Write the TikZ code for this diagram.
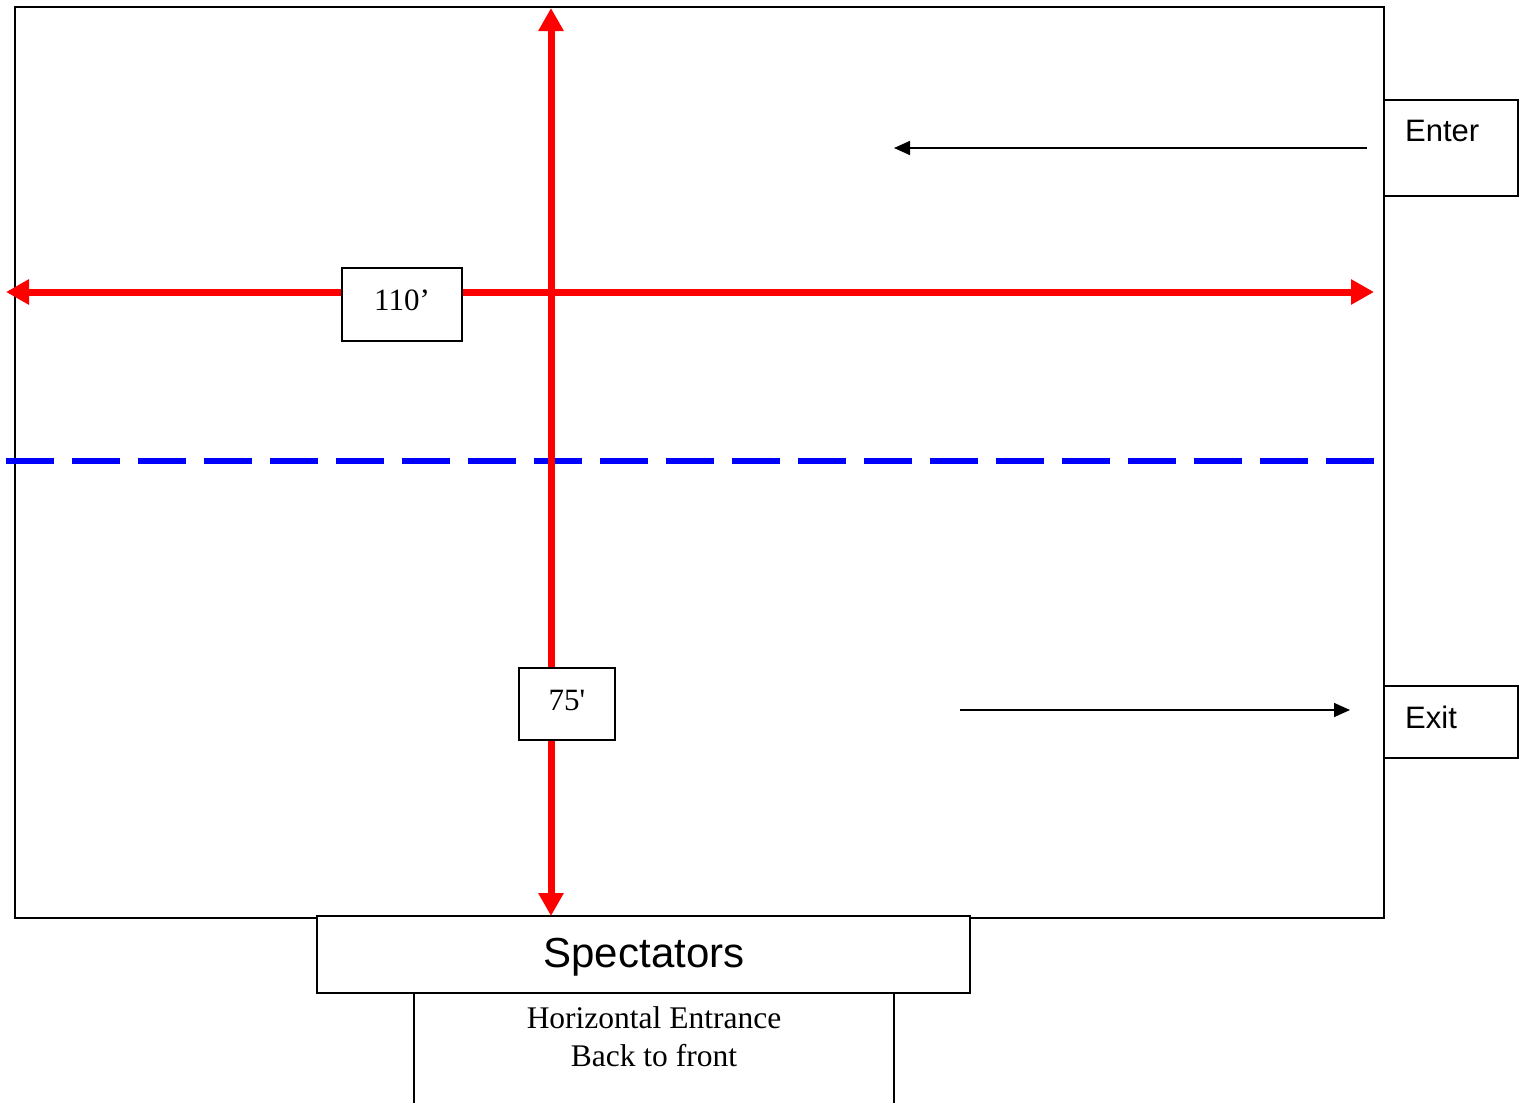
\documentclass[tikz,border=0pt]{standalone}
\usepackage{fontspec}
\setmainfont{Liberation Serif}
\newfontfamily\arialf{Liberation Sans}
\newfontfamily\timesplain[Ligatures=TeXOff]{Liberation Serif}
\usetikzlibrary{arrows.meta}
\tikzset{
  frame/.style={draw=black, line width=2pt, inner sep=0pt, outer sep=0pt},
  whitebox/.style={frame, fill=white},
  redarrow/.style={draw=red, line width=7pt, {Triangle[length=23pt,width=24pt]}-{Triangle[length=23pt,width=24pt]}},
  bluedash/.style={draw=blue, line width=6pt, dash pattern=on 48pt off 18pt},
  thinarrow/.style={draw=black, line width=1.6pt, -{Triangle[length=16pt,width=14pt]}},
  sanslabel/.style={font=\arialf\fontsize{31}{37}\selectfont, inner sep=0pt},
  seriflabel/.style={font=\fontsize{31}{37}\selectfont, inner sep=0pt},
}
\begin{document}
\begin{tikzpicture}[x=1pt,y=-1pt]
\useasboundingbox (0,0) rectangle (1519,1103);
% field
\node[frame, minimum width=1369pt, minimum height=911pt, anchor=north west] (field) at (15,7) {};
% coordinates for free ends
\coordinate (bl) at (6,461);
\coordinate (br) at (1374,461);
\coordinate (hl) at (6,292);
\coordinate (hr) at (1374,292);
\coordinate (vt) at (551,8);
\coordinate (vb) at (551,916);
\coordinate (enterfrom) at (1367,148);
\coordinate (enterto) at (894,148);
\coordinate (exitfrom) at (960,710);
\coordinate (exitto) at (1350,710);
% blue dashed line
\draw[bluedash] (bl) -- (br);
% spectators box
\node[whitebox, minimum width=653pt, minimum height=77pt] (spect) at (643.5,954.5) {};
\node[font=\arialf\fontsize{42}{50}\selectfont, inner sep=0pt, anchor=base] (specttext) at (644,967) {Spectators};
% red arrows
\draw[redarrow] (hl) -- (hr);
\draw[redarrow] (vt) -- (vb);
% dimension labels
\node[whitebox, minimum width=120pt, minimum height=73pt] (len) at (402,304.5) {};
\node[seriflabel, anchor=base] (lentext) at (402,310) {110’};
\node[whitebox, minimum width=96pt, minimum height=72pt] (wid) at (567,704) {};
\node[seriflabel, anchor=base] (widtext) at (567,710) {\timesplain 75'};
% enter / exit
\node[whitebox, minimum width=134pt, minimum height=96pt] (enter) at (1451,148) {};
\node[sanslabel, anchor=base west] (entertext) at (1405,141) {Enter};
\node[whitebox, minimum width=134pt, minimum height=72pt] (exit) at (1451,722) {};
\node[sanslabel, anchor=base west] (exittext) at (1405,728) {Exit};
\draw[thinarrow] (enterfrom) -- (enterto);
\draw[thinarrow] (exitfrom) -- (exitto);
% entrance lane
\coordinate (lanel) at (414,1103);
\coordinate (laner) at (894,1103);
\draw[line width=2pt] (spect.south -| lanel) -- (lanel);
\draw[line width=2pt] (spect.south -| laner) -- (laner);
\node[font=\fontsize{31.5}{38}\selectfont, align=center, inner sep=0pt, anchor=base] (lanetext) at (654,1066) {Horizontal Entrance\\Back to front};
\end{tikzpicture}
\end{document}
